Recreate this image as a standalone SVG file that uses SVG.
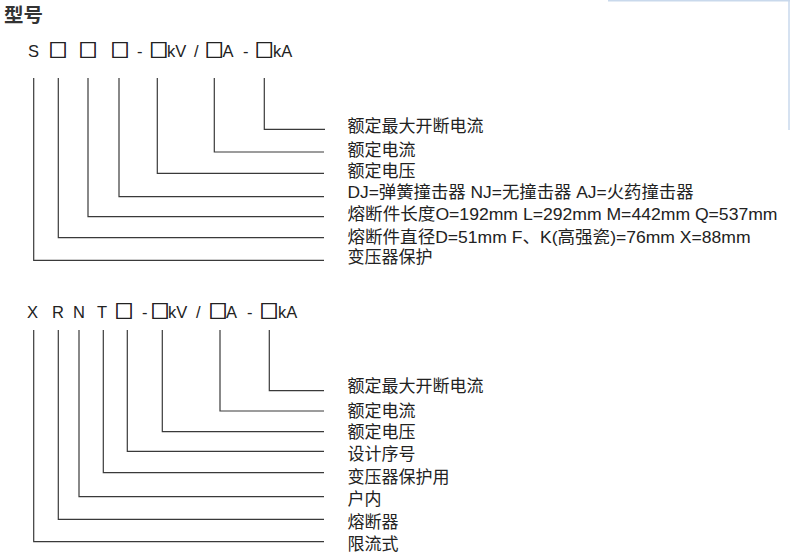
<svg xmlns="http://www.w3.org/2000/svg" width="790" height="556" viewBox="0 0 790 556">
<style>
.title{font-family:"Noto Sans CJK SC","Noto Sans",sans-serif;font-size:19.5px;font-weight:bold;fill:#333}
.code{font-family:"Liberation Sans","Noto Sans CJK SC",sans-serif;font-size:16.5px;fill:#222}
.sq{font-family:"Noto Sans CJK SC",sans-serif;font-size:18.5px;stroke:#222;stroke-width:0.7}
.lbl{font-family:"Liberation Sans","Noto Sans CJK SC",sans-serif;font-size:17px;fill:#222}
.ln{fill:none;stroke:#3a3a3a;stroke-width:1.2}
.art{stroke:#c9d9ec;stroke-width:1.5}
</style>
<rect width="790" height="556" fill="#fff"/>
<line class="art" x1="608" y1="0.8" x2="790" y2="0.8"/>
<line class="art" x1="789" y1="0" x2="789" y2="130"/>
<text class="title" x="4" y="21.5">型号</text>

<g id="code-S">
<text class="code" y="57.3"><tspan x="28">S</tspan><tspan class="sq" x="48.7">□</tspan><tspan class="sq" x="78.7">□</tspan><tspan class="sq" x="110.7">□</tspan><tspan x="137">-</tspan><tspan class="sq" x="149.4">□</tspan><tspan x="167">kV</tspan><tspan x="194">/</tspan><tspan class="sq" x="205">□</tspan><tspan x="222.5">A</tspan><tspan x="243">-</tspan><tspan class="sq" x="255">□</tspan><tspan x="273">kA</tspan></text>
</g>

<g id="connectors-S">
<path class="ln" d="M264.3,78V129.3H325"/>
<path class="ln" d="M214.3,78V152H324"/>
<path class="ln" d="M157.3,78V173.3H324"/>
<path class="ln" d="M119,78V196.7H324"/>
<path class="ln" d="M88,78V216.7H324"/>
<path class="ln" d="M58.3,78V237.7H324"/>
<path class="ln" d="M33.7,78V260.3H324"/>
</g>

<g id="label-S-1"><text class="lbl" x="347.5" y="131.5">额定最大开断电流</text></g>
<g id="label-S-2"><text class="lbl" x="347.5" y="155.8">额定电流</text></g>
<g id="label-S-3"><text class="lbl" x="347.5" y="176.5">额定电压</text></g>
<g id="label-S-4"><text class="lbl" x="347.5" y="197.5" textLength="346" lengthAdjust="spacingAndGlyphs">DJ=弹簧撞击器 NJ=无撞击器 AJ=火药撞击器</text></g>
<g id="label-S-5"><text class="lbl" x="347.5" y="219.6" textLength="430" lengthAdjust="spacingAndGlyphs">熔断件长度O=192mm L=292mm M=442mm Q=537mm</text></g>
<g id="label-S-6"><text class="lbl" x="347.5" y="242.8" textLength="403" lengthAdjust="spacingAndGlyphs">熔断件直径D=51mm F、K(高强瓷)=76mm X=88mm</text></g>
<g id="label-S-7"><text class="lbl" x="347.5" y="263.2">变压器保护</text></g>

<g id="code-XRNT">
<text class="code" y="318.3"><tspan x="27">X</tspan><tspan x="52">R</tspan><tspan x="73">N</tspan><tspan x="97">T</tspan><tspan class="sq" x="114.7">□</tspan><tspan x="142">-</tspan><tspan class="sq" x="150.7">□</tspan><tspan x="168">kV</tspan><tspan x="196">/</tspan><tspan class="sq" x="208.7">□</tspan><tspan x="226">A</tspan><tspan x="247">-</tspan><tspan class="sq" x="259.7">□</tspan><tspan x="278">kA</tspan></text>
</g>

<g id="connectors-XRNT">
<path class="ln" d="M269.3,330V390.7H324"/>
<path class="ln" d="M220,330V411H324"/>
<path class="ln" d="M162.3,330V431.7H324"/>
<path class="ln" d="M127.3,330V451.3H324"/>
<path class="ln" d="M103.3,330V472.7H324"/>
<path class="ln" d="M79,330V496.7H324"/>
<path class="ln" d="M58.3,330V519.3H324"/>
<path class="ln" d="M33.7,330V541.7H324"/>
</g>

<g id="label-X-1"><text class="lbl" x="347.5" y="391.5">额定最大开断电流</text></g>
<g id="label-X-2"><text class="lbl" x="347.5" y="416.5">额定电流</text></g>
<g id="label-X-3"><text class="lbl" x="347.5" y="438.2">额定电压</text></g>
<g id="label-X-4"><text class="lbl" x="347.5" y="459.8">设计序号</text></g>
<g id="label-X-5"><text class="lbl" x="347.5" y="483.2">变压器保护用</text></g>
<g id="label-X-6"><text class="lbl" x="347.5" y="504.8">户内</text></g>
<g id="label-X-7"><text class="lbl" x="347.5" y="528.2">熔断器</text></g>
<g id="label-X-8"><text class="lbl" x="347.5" y="549.8">限流式</text></g>
</svg>
